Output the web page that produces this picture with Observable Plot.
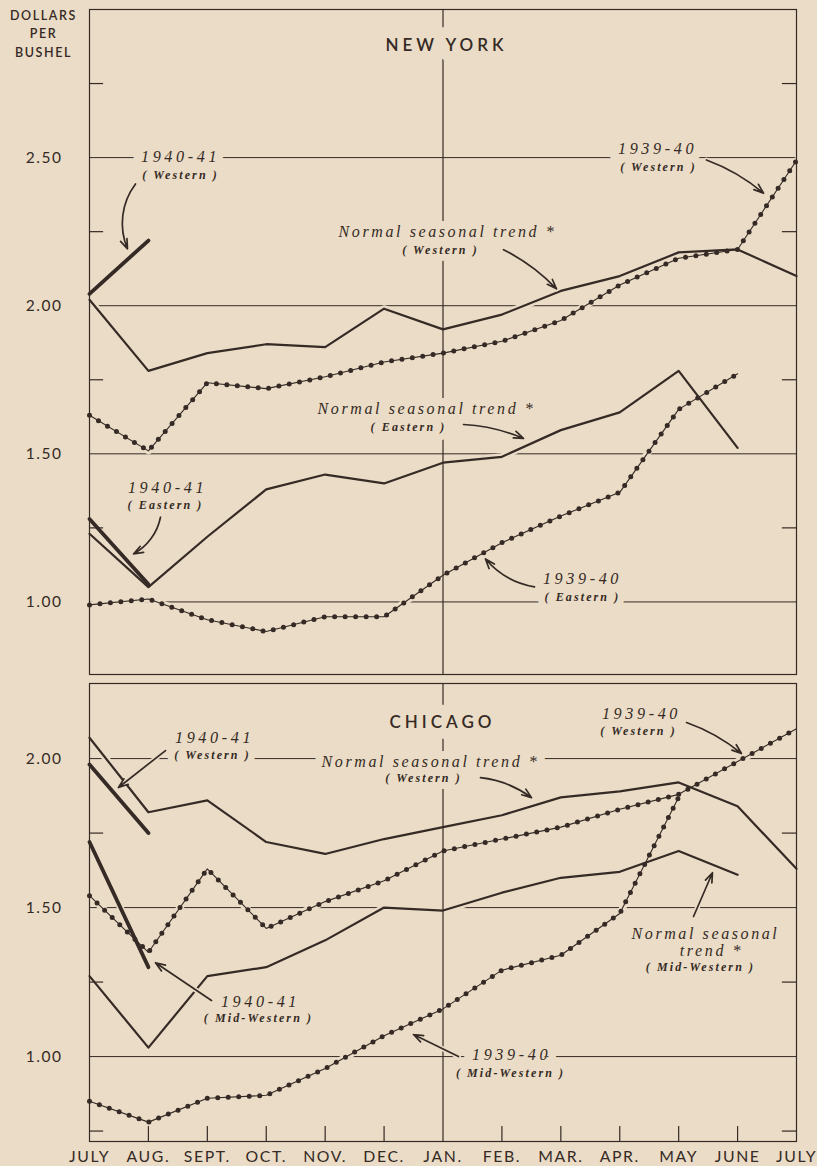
<!DOCTYPE html>
<html><head><meta charset="utf-8">
<script src="https://cdn.jsdelivr.net/npm/d3@7"></script>
<script src="https://cdn.jsdelivr.net/npm/@observablehq/plot@0.6"></script>
<style>
html,body{margin:0;padding:0;background:#eadcc6;}
#chart svg{display:block;}
</style></head><body><div id="chart"></div>
<script>
// ---------- data ----------
const months = ["JULY","AUG.","SEPT.","OCT.","NOV.","DEC.","JAN.","FEB.","MAR.","APR.","MAY","JUNE","JULY"];
const unitLabel = ["DOLLARS","PER","BUSHEL"];

// New York (dollars per bushel, July .. July)
const nyNormalWestern = [2.02,1.78,1.84,1.87,1.86,1.99,1.92,1.97,2.05,2.10,2.18,2.19,2.10];
const ny1939Western   = [1.63,1.51,1.74,1.72,1.76,1.81,1.84,1.88,1.95,2.07,2.16,2.19,2.49];
const ny1940Western   = [2.04,2.22];
const nyNormalEastern = [1.23,1.05,1.22,1.38,1.43,1.40,1.47,1.49,1.58,1.64,1.78,1.52];
const ny1939Eastern   = [0.99,1.01,0.94,0.90,0.95,0.95,1.09,1.20,1.29,1.37,1.65,1.77];
const ny1940Eastern   = [1.28,1.06];

// Chicago
const chiNormalWestern    = [2.07,1.82,1.86,1.72,1.68,1.73,1.77,1.81,1.87,1.89,1.92,1.84,1.63];
const chi1939Western      = [1.54,1.35,1.63,1.43,1.52,1.59,1.69,1.73,1.77,1.83,1.88,1.99,2.10];
const chi1940Western      = [1.98,1.75];
const chiNormalMidWestern = [1.27,1.03,1.27,1.30,1.39,1.50,1.49,1.55,1.60,1.62,1.69,1.61];
const chi1939MidWestern   = [0.85,0.78,0.86,0.87,0.96,1.07,1.16,1.29,1.34,1.48,1.87];
const chi1940MidWestern   = [1.72,1.30];

const nyTicks = [1.00,1.50,2.00,2.50];
const nyMinor = [1.25,1.75,2.25,2.75];
const chiTicks = [1.00,1.50,2.00];
const chiMinor = [0.75,1.25,1.75];

// annotations (month index, dollars)
const nyTitles = [{text:"NEW YORK", m:6.06, v:2.879}];
const nyYears = [
  {text:"1940-41", m:1.545, v:2.502},
  {text:"1939-40", m:9.641, v:2.529},
  {text:"1940-41", m:1.324, v:1.384},
  {text:"1939-40", m:8.367, v:1.077}];
const nyTrends = [
  {text:"Normal seasonal trend *", m:6.076, v:2.249},
  {text:"Normal seasonal trend *", m:5.720, v:1.653}];
const nySubs = [
  {text:"( Western )", m:1.545, v:2.441},
  {text:"( Western )", m:9.657, v:2.468},
  {text:"( Western )", m:5.957, v:2.189},
  {text:"( Eastern )", m:5.414, v:1.589},
  {text:"( Eastern )", m:1.290, v:1.327},
  {text:"( Eastern )", m:8.367, v:1.017}];
const nyArrows = [
  {m1:0.781, v1:2.411, m2:0.645, v2:2.192, bend:-30},
  {m1:10.472, v1:2.492, m2:11.440, v2:2.380, bend:10},
  {m1:7.027, v1:2.189, m2:7.926, v2:2.057, bend:10},
  {m1:6.348, v1:1.599, m2:7.366, v2:1.552, bend:10},
  {m1:1.205, v1:1.286, m2:0.747, v2:1.162, bend:25},
  {m1:7.553, v1:1.051, m2:6.721, v2:1.145, bend:20}];

const chiTitles = [{text:"CHICAGO", m:5.991, v:2.121}];
const chiYears = [
  {text:"1940-41", m:2.122, v:2.070},
  {text:"1939-40", m:9.369, v:2.151},
  {text:"1940-41", m:2.902, v:1.185},
  {text:"1939-40", m:7.163, v:1.007}];
const chiTrends = [
  {text:"Normal seasonal trend *", m:5.788, v:1.990},
  {text:"Normal seasonal", m:10.455, v:1.413},
  {text:"trend *", m:10.557, v:1.356}];
const chiSubs = [
  {text:"( Western )", m:2.088, v:2.013},
  {text:"( Western )", m:5.669, v:1.936},
  {text:"( Western )", m:9.318, v:2.091},
  {text:"( Mid-Western )", m:2.868, v:1.128},
  {text:"( Mid-Western )", m:7.146, v:0.946},
  {text:"( Mid-Western )", m:10.370, v:1.299}];
const chiArrows = [
  {m1:1.290, v1:2.027, m2:0.492, v2:1.903, bend:0},
  {m1:6.636, v1:1.936, m2:7.502, v2:1.869, bend:15},
  {m1:10.133, v1:2.121, m2:11.066, v2:2.017, bend:10},
  {m1:2.071, v1:1.188, m2:1.120, v2:1.315, bend:0},
  {m1:6.263, v1:1.000, m2:5.499, v2:1.074, bend:0},
  {m1:10.252, v1:1.470, m2:10.574, v2:1.617, bend:0}];

// ---------- drawing ----------
const ink = "#352a25", bg = "#eadcc6";
const sans = "Lato, 'DejaVu Sans', sans-serif";
const serif = "'Liberation Serif', 'DejaVu Serif', serif";

function series(values){ return values.map((v,i)=>({m:i, v})); }

function lineMarks(values, kind){
  const d = series(values);
  if (kind === "dotted") return [
    Plot.line(d, {x:"m", y:"v", stroke: ink, strokeWidth: 1.1}),
    Plot.line(d, {x:"m", y:"v", stroke: ink, strokeWidth: 5, strokeDasharray: "0 10.5", strokeLinecap: "round"})
  ];
  if (kind === "thick") return [Plot.line(d, {x:"m", y:"v", stroke: ink, strokeWidth: 3.8})];
  return [Plot.line(d, {x:"m", y:"v", stroke: ink, strokeWidth: 2.2})];
}

const TITLE = 17, YEAR = 16.2, TREND = 16, SUB = 12, CORNER = 12.5, TICK = 15.5, MONTH = 15.8;
const spacingBySize = {[TITLE]: 4, [YEAR]: 3.6, [TREND]: 2.6, [SUB]: 2.1, [CORNER]: 1.6, [TICK]: 1.5, [MONTH]: 1.6};

function labelMarks(o){
  const t = (data, extra) => Plot.text(data, {x:"m", y:"v", text:"text", ...extra});
  const styles = [
    [o.titles, {fontSize: TITLE, fontWeight: 600, fontFamily: sans}, 22],
    [o.years, {fontSize: YEAR, fontStyle: "italic", fontFamily: serif}, 18],
    [o.trends, {fontSize: TREND, fontStyle: "italic", fontFamily: serif}, 16],
    [o.subs, {fontSize: SUB, fontStyle: "italic", fontWeight: 600, fontFamily: serif}, 14]
  ];
  return [
    ...styles.map(([d, s, w]) => t(d, {...s, fill: bg, stroke: bg, strokeWidth: w, strokeLinejoin: "round"})),
    ...styles.map(([d, s]) => t(d, {...s, fill: ink}))
  ];
}

function panel(o){
  const y0 = o.yDomain[0];
  const marks = [
    Plot.ruleY(o.ticks, {stroke: ink, strokeWidth: 1}),
    ...o.lines.map(l => Plot.line(series(l.values), {x:"m", y:"v", stroke: bg, strokeWidth: 7})),
    Plot.frame({stroke: ink, strokeWidth: 1.2}),
    Plot.ruleX([6], {stroke: ink, strokeWidth: 1.2}),
    Plot.ruleY(o.minor, {x1: 0, x2: 0.24, stroke: ink, strokeWidth: 1.2}),
    Plot.ruleY(o.minor, {x1: 11.76, x2: 12, stroke: ink, strokeWidth: 1.2}),
    ...(o.monthTicks ? [Plot.ruleX(o.monthTicks, {y1: y0, y2: y0 + 0.05, stroke: ink, strokeWidth: 1.2})] : []),
    ...o.lines.flatMap(l => lineMarks(l.values, l.kind)),
    ...labelMarks(o),
    ...o.arrows.map(a => Plot.arrow([a], {x1:"m1", y1:"v1", x2:"m2", y2:"v2", bend: a.bend, stroke: bg, strokeWidth: 5, headLength: 0})),
    ...o.arrows.map(a => Plot.arrow([a], {x1:"m1", y1:"v1", x2:"m2", y2:"v2", bend: a.bend, stroke: ink, strokeWidth: 1.7, headLength: 9, headAngle: 40})),
    Plot.axisY(o.ticks, {tickFormat: d => d.toFixed(2), tickSize: 0, tickPadding: 27, fontSize: TICK, fill: ink, label: null})
  ];
  if (o.xAxis) marks.push(Plot.axisX(d3.range(13), {tickFormat: i => months[i], tickSize: 0, tickPadding: 9, fontSize: MONTH, fill: ink, label: null}));
  if (o.corner) marks.push(Plot.text([unitLabel.join("\n")], {text: d => d, frameAnchor: "top-left", dx: -46, dy: -2, lineAnchor: "top", textAnchor: "middle", fontSize: CORNER, fontWeight: 600, lineHeight: 1.45, fill: ink}));
  const svg = Plot.plot({
    width: 817, height: o.height,
    marginLeft: 89, marginRight: 21, marginTop: o.marginTop, marginBottom: o.marginBottom,
    style: {background: bg, color: ink, fontFamily: sans, overflow: "visible"},
    x: {domain: [0, 12], ...(o.xAxis ? {} : {axis: null})},
    y: {domain: o.yDomain},
    marks
  });
  svg.querySelectorAll("g[font-size]").forEach(g => {
    const s = spacingBySize[+g.getAttribute("font-size")];
    if (s != null) g.setAttribute("letter-spacing", s);
  });
  return svg;
}

const chart = document.getElementById("chart");
chart.appendChild(panel({
  height: 678, marginTop: 9, marginBottom: 4, yDomain: [0.755, 3.0],
  ticks: nyTicks, minor: nyMinor, corner: true,
  lines: [
    {values: nyNormalWestern, kind: "normal"},
    {values: ny1939Western, kind: "dotted"},
    {values: ny1940Western, kind: "thick"},
    {values: nyNormalEastern, kind: "normal"},
    {values: ny1939Eastern, kind: "dotted"},
    {values: ny1940Eastern, kind: "thick"}],
  titles: nyTitles, years: nyYears, trends: nyTrends, subs: nySubs, arrows: nyArrows
}));
chart.appendChild(panel({
  height: 488, marginTop: 5, marginBottom: 25, yDomain: [0.715, 2.252],
  ticks: chiTicks, minor: chiMinor, xAxis: true, monthTicks: [1,2,3,4,5,7,8,9,10,11],
  lines: [
    {values: chiNormalWestern, kind: "normal"},
    {values: chi1939Western, kind: "dotted"},
    {values: chi1940Western, kind: "thick"},
    {values: chiNormalMidWestern, kind: "normal"},
    {values: chi1939MidWestern, kind: "dotted"},
    {values: chi1940MidWestern, kind: "thick"}],
  titles: chiTitles, years: chiYears, trends: chiTrends, subs: chiSubs, arrows: chiArrows
}));
</script></body></html>
